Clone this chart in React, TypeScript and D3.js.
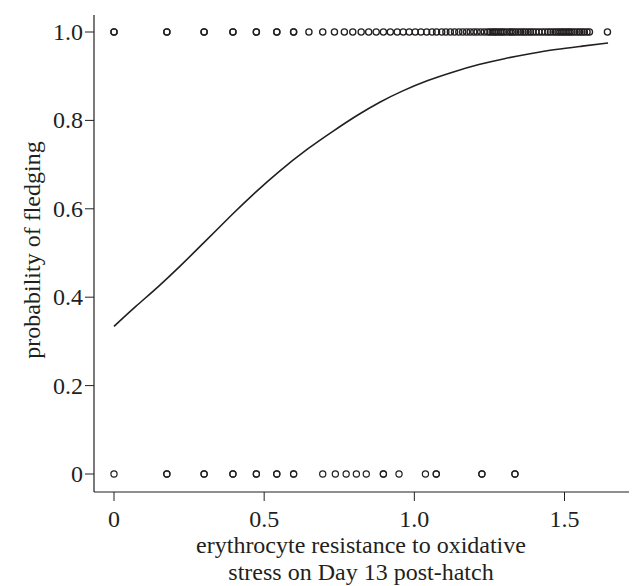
import React from 'react'
import * as d3 from 'd3'

// observed fledging outcomes: x positions of nestlings that fledged (1) / did not (0)
// repeated values = overplotted points
const fledgedX = [
  0, 0, 0.176, 0.176, 0.3, 0.3, 0.396, 0.396, 0.474, 0.474, 0.542, 0.542, 0.598, 0.598,
  0.649, 0.695, 0.734, 0.767, 0.795, 0.823, 0.848, 0.873, 0.897, 0.92, 0.943, 0.963,
  0.983, 1.003, 1.022, 1.041, 1.059, 1.074, 1.091, 1.105, 1.12, 1.134, 1.148, 1.161,
  1.174, 1.186, 1.198, 1.209, 1.221, 1.233, 1.244, 1.252, 1.259, 1.266, 1.272, 1.279,
  1.286, 1.292, 1.299, 1.307, 1.316, 1.322, 1.329, 1.337, 1.346, 1.354, 1.362, 1.37,
  1.379, 1.387, 1.395, 1.405, 1.415, 1.425, 1.435, 1.445, 1.453, 1.462, 1.47, 1.478,
  1.485, 1.492, 1.498, 1.505, 1.512, 1.518, 1.525, 1.533, 1.542, 1.55, 1.558, 1.566,
  1.575, 1.583, 1.643,
]
const failedX = [
  0, 0.176, 0.176, 0.3, 0.3, 0.396, 0.396, 0.474, 0.474, 0.542, 0.542, 0.598, 0.598,
  0.695, 0.737, 0.773, 0.807, 0.84, 0.897, 0.897, 0.949, 1.037, 1.073, 1.073,
  1.225, 1.225, 1.335, 1.335,
]

// fitted logistic curve
const fitX = [0, 0.07, 0.15, 0.22, 0.29, 0.4, 0.47, 0.54, 0.65, 0.73, 0.81, 0.885, 0.96,
  1.045, 1.13, 1.215, 1.3, 1.385, 1.47, 1.56, 1.645]
const fitY = [0.334, 0.378, 0.425, 0.47, 0.517, 0.592, 0.637, 0.68, 0.739, 0.776, 0.812,
  0.842, 0.867, 0.891, 0.91, 0.927, 0.94, 0.951, 0.961, 0.968, 0.975]

const xTicks = [0, 0.5, 1.0, 1.5]
const xTickLabels = ['0', '0.5', '1.0', '1.5']
const yTicks = [0, 0.2, 0.4, 0.6, 0.8, 1.0]
const yTickLabels = ['0', '0.2', '0.4', '0.6', '0.8', '1.0']

const W = 635
const H = 586
const FONT = '"Liberation Serif", "Times New Roman", serif'
const INK = '#231f20'

export default function App() {
  const x = d3.scaleLinear().domain([0, 1.5]).range([114, 564.5])
  const y = d3.scaleLinear().domain([0, 1]).range([474, 32])
  const axisLeft = 94
  const axisBottom = 492

  const line = d3.line<number>()
    .x(d => x(fitX[d]))
    .y(d => y(fitY[d]))
    .curve(d3.curveBasis)

  return (
    <div>
      <style>{'body{margin:0}'}</style>
      <svg width={W} height={H} style={{ display: 'block', background: '#fff' }} fontFamily={FONT}>
        {/* axes */}
        <line x1={axisLeft} x2={axisLeft} y1={15} y2={axisBottom} stroke={INK} strokeWidth={1.2} />
        <line x1={axisLeft} x2={629} y1={axisBottom} y2={axisBottom} stroke={INK} strokeWidth={1.2} />

        {yTicks.map((t, i) => (
          <g key={'y' + i}>
            <line x1={axisLeft - 9} x2={axisLeft} y1={y(t)} y2={y(t)} stroke={INK} strokeWidth={1} />
            <text x={axisLeft - 11} y={y(t)} dy="0.33em" textAnchor="end" fontSize={24} fill={INK}>
              {yTickLabels[i]}
            </text>
          </g>
        ))}

        {xTicks.map((t, i) => (
          <g key={'x' + i}>
            <line x1={x(t)} x2={x(t)} y1={axisBottom} y2={axisBottom + 9} stroke={INK} strokeWidth={1} />
            <text x={x(t)} y={527} textAnchor="middle" fontSize={24} fill={INK}>
              {xTickLabels[i]}
            </text>
          </g>
        ))}

        {/* axis titles */}
        <text x={361} y={553} textAnchor="middle" fontSize={24} fill={INK}>
          erythrocyte resistance to oxidative
        </text>
        <text x={361} y={580} textAnchor="middle" fontSize={24} fill={INK}>
          stress on Day 13 post-hatch
        </text>
        <text
          transform={`translate(${40},${250}) rotate(-90)`}
          textAnchor="middle"
          fontSize={24}
          fill={INK}
        >
          probability of fledging
        </text>

        {/* data points */}
        {fledgedX.map((v, i) => (
          <circle key={'f' + i} cx={x(v)} cy={y(1)} r={3.1} fill="none" stroke={INK} strokeWidth={1.3} />
        ))}
        {failedX.map((v, i) => (
          <circle key={'n' + i} cx={x(v)} cy={y(0)} r={3.1} fill="none" stroke={INK} strokeWidth={1.2} />
        ))}

        {/* fitted curve */}
        <path d={line(d3.range(fitX.length)) || ''} fill="none" stroke={INK} strokeWidth={1.6} />
      </svg>
    </div>
  )
}
